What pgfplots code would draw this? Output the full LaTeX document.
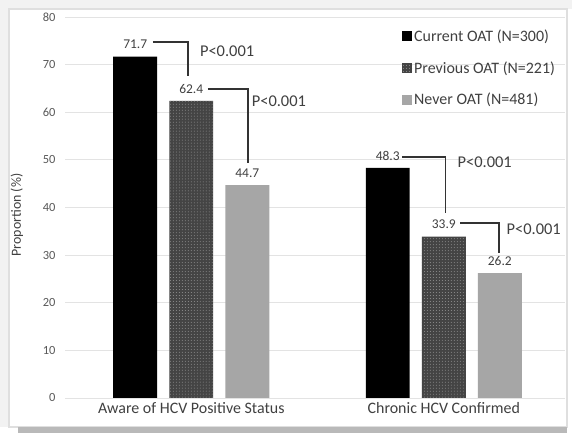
\documentclass[border=0pt]{standalone}
\usepackage{pgfplots}
\pgfplotsset{compat=1.18}
\usetikzlibrary{patterns}
\usepackage{fontspec}
\setmainfont{Carlito}
\definecolor{txt}{HTML}{404040}
\definecolor{tick}{HTML}{595959}
\definecolor{darkbar}{HTML}{444444}
\definecolor{lightbar}{HTML}{A6A6A6}
\begin{document}
\begin{tikzpicture}
\useasboundingbox (0bp,0bp) rectangle (572bp,433bp);
\fill[white] (0bp,0bp) rectangle (572bp,433bp);
\fill[gray!10] (0bp,6bp) rectangle (9bp,433bp);
\fill[gray!10] (0bp,424bp) rectangle (572bp,433bp);
\draw[gray!25, line width=1.2bp] (9bp,6bp) rectangle (567bp,424bp);
\fill[gray!55] (18bp,0bp) rectangle (567bp,6bp);
\begin{axis}[
  at={(65bp,35bp)}, anchor=south west,
  scale only axis, width=500bp, height=381bp,
  xmin=-0.5, xmax=1.48, ymin=0, ymax=80,
  ybar, bar width=0.174,
  xtick={0,1}, xticklabels={Aware of HCV Positive Status, Chronic HCV Confirmed},
  ytick={0,10,...,80},
  ymajorgrids, major grid style={gray!22, line width=0.8bp},
  axis line style={draw=none}, major tick length=0pt,
  /pgf/number format/assume math mode=true,
  yticklabel style={font=\fontsize{12.5}{14}\selectfont, text=tick, xshift=-6bp},
  xticklabel style={font=\fontsize{16}{18}\selectfont, text=txt, yshift=-1bp},
  ylabel={Proportion (\%)},
  ylabel style={at={(axis description cs:-0.096,0.48)}, anchor=center, font=\fontsize{14}{16}\selectfont, text=txt},
  nodes near coords,
  nodes near coords style={font=\fontsize{13.5}{15}\selectfont, text=txt, anchor=center, yshift=12bp,
    /pgf/number format/fixed, /pgf/number format/precision=1, /pgf/number format/fixed zerofill},
  clip=false,
  legend style={draw=none, fill=none, at={(axis description cs:0.674,0.972)}, anchor=north west,
    font=\fontsize{16}{18}\selectfont, text=txt, row sep=14.5bp, inner sep=0pt,
    nodes={inner xsep=2bp}},
  legend cell align=left,
  legend image code/.code={\path[#1, draw=none] (0bp,-5bp) rectangle (10bp,5bp);},
]
\addplot[fill=black, draw=none, bar shift=-0.222] coordinates {(0,71.7) (1,48.3)};
\addplot[fill=darkbar, draw=none, postaction={pattern=dots, pattern color=gray!85}, bar shift=0] coordinates {(0,62.4) (1,33.9)};
\addplot[fill=lightbar, draw=none, bar shift=0.222] coordinates {(0,44.7) (1,26.2)};
\legend{Current OAT (N=300), Previous OAT (N=221), Never OAT (N=481)}
\draw[black!80, line width=1.8bp] (axis cs:-0.152,74.8) -| (axis cs:-0.014,67.6);
\draw[black!80, line width=1.8bp] (axis cs:0.066,64.9) -| (axis cs:0.224,49.3);
\draw[black!80, line width=1.8bp] (axis cs:0.835,50.6) -| (axis cs:1.007,38.8);
\draw[black!80, line width=1.8bp] (axis cs:1.066,36.7) -| (axis cs:1.22,30.4);
\node[anchor=west, font=\fontsize{16.5}{18}\selectfont, text=txt, inner sep=0pt] at (axis cs:0.034,72.9) {P<0.001};
\node[anchor=west, font=\fontsize{16.5}{18}\selectfont, text=txt, inner sep=0pt] at (axis cs:0.239,62.4) {P<0.001};
\node[anchor=west, font=\fontsize{16.5}{18}\selectfont, text=txt, inner sep=0pt] at (axis cs:1.054,49.6) {P<0.001};
\node[anchor=west, font=\fontsize{16.5}{18}\selectfont, text=txt, inner sep=0pt] at (axis cs:1.248,35.5) {P<0.001};
\end{axis}
\end{tikzpicture}
\end{document}
